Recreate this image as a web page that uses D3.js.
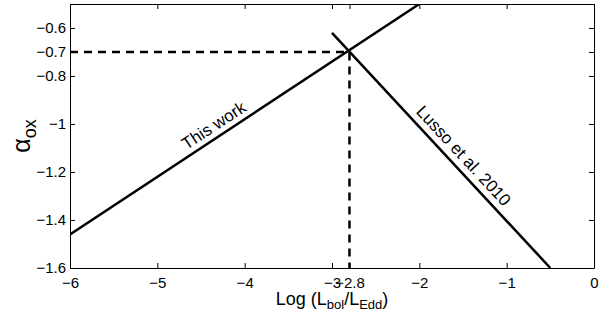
<!DOCTYPE html>
<html>
<head>
<meta charset="utf-8">
<script src="https://cdn.jsdelivr.net/npm/d3@7"></script>
<style>
  body { margin: 0; background: #fff; }
  svg text { font-family: "Liberation Sans", Arial, sans-serif; fill: #000; }
</style>
</head>
<body>
<svg width="600" height="318"></svg>
<script>
// values
var xTicks = [-6, -5, -4, -3, -2.8, -2, -1, 0];
var yTicks = [-1.6, -1.4, -1.2, -1, -0.8, -0.7, -0.6];
var thisWork = [[-6, -1.46], [-2, -0.5]];
var lusso = [[-3.0, -0.62], [-0.5, -1.6]];
var cross = [-2.8, -0.7];

var margin = {top: 4, left: 70, right: 6, bottom: 50};
var width = 600, height = 318;

var xScale = d3.scaleLinear()
  .domain([-6, 0])
  .range([margin.left, width - margin.right]);
var yScale = d3.scaleLinear()
  .domain([-1.6, -0.5])
  .range([height - margin.bottom, margin.top]);

var svg = d3.select('svg');

svg.append('clipPath').attr('id', 'clip')
  .append('rect')
  .attr('x', margin.left).attr('y', margin.top)
  .attr('width', xScale(0) - margin.left)
  .attr('height', yScale(-1.6) - margin.top);

// axes, matlab style ticks pointing inside
var fmt = d => d3.format('')(d).replace('-', '\u2212');
svg.append('g')
  .attr('transform', `translate(0,${yScale(-1.6)})`)
  .call(d3.axisBottom(xScale).tickValues(xTicks).tickSizeInner(-5).tickSizeOuter(0).tickPadding(9).tickFormat(fmt));
svg.append('g')
  .attr('transform', `translate(0,${yScale(-0.5)})`)
  .call(d3.axisTop(xScale).tickValues(xTicks).tickSizeInner(-5).tickSizeOuter(0).tickFormat(''));
svg.append('g')
  .attr('transform', `translate(${xScale(-6)},0)`)
  .call(d3.axisLeft(yScale).tickValues(yTicks).tickSizeInner(-5).tickSizeOuter(0).tickPadding(4).tickFormat(fmt));
svg.append('g')
  .attr('transform', `translate(${xScale(0)},0)`)
  .call(d3.axisRight(yScale).tickValues(yTicks).tickSizeInner(-5).tickSizeOuter(0).tickFormat(''));

svg.selectAll('.domain').attr('stroke', '#000').attr('stroke-width', 1);
svg.selectAll('.tick line').attr('stroke', '#000');
svg.selectAll('.tick text').attr('font-size', 15).attr('font-family', '"Liberation Sans", Arial, sans-serif');

var line = d3.line().x(d => xScale(d[0])).y(d => yScale(d[1]));
var plot = svg.append('g').attr('clip-path', 'url(#clip)');

plot.append('path').datum(thisWork)
  .attr('d', line).attr('fill', 'none').attr('stroke', '#000').attr('stroke-width', 2.5);
plot.append('path').datum(lusso)
  .attr('d', line).attr('fill', 'none').attr('stroke', '#000').attr('stroke-width', 2.5);

// dashed guides to the crossing point
plot.append('path').datum([[-6, cross[1]], cross, [cross[0], -1.6]])
  .attr('d', line).attr('fill', 'none').attr('stroke', '#000')
  .attr('stroke-width', 2.5).attr('stroke-dasharray', '8,6');

// line labels rotated along the lines
function angle(seg) {
  var dx = xScale(seg[1][0]) - xScale(seg[0][0]);
  var dy = yScale(seg[1][1]) - yScale(seg[0][1]);
  return Math.atan2(dy, dx) * 180 / Math.PI;
}
function addLabel(seg, xv, txt, off) {
  var t = (xv - seg[0][0]) / (seg[1][0] - seg[0][0]);
  var yv = seg[0][1] + t * (seg[1][1] - seg[0][1]);
  svg.append('text')
    .attr('transform', `translate(${xScale(xv)},${yScale(yv)}) rotate(${angle(seg)}) translate(0,${off})`)
    .attr('text-anchor', 'middle')
    .attr('font-size', 17)
    .text(txt);
}
addLabel(thisWork, -4.28, 'This work', -6);
addLabel(lusso, -1.6, 'Lusso et al. 2010', -7);

// axis titles
var xl = svg.append('text')
  .attr('x', xScale(-3)).attr('y', 305)
  .attr('text-anchor', 'middle').attr('font-size', 18);
xl.append('tspan').text('Log (L');
xl.append('tspan').attr('font-size', 13).attr('dy', 4).text('bol');
xl.append('tspan').attr('dy', -4).text('/L');
xl.append('tspan').attr('font-size', 13).attr('dy', 4).text('Edd');
xl.append('tspan').attr('dy', -4).text(')');

var yl = svg.append('text')
  .attr('transform', `translate(30,${yScale(-1.05)}) rotate(-90)`)
  .attr('text-anchor', 'middle').attr('font-size', 25);
yl.append('tspan').text('\u03b1');
yl.append('tspan').attr('font-size', 18).attr('dy', 6).text('ox');
</script>
</body>
</html>
